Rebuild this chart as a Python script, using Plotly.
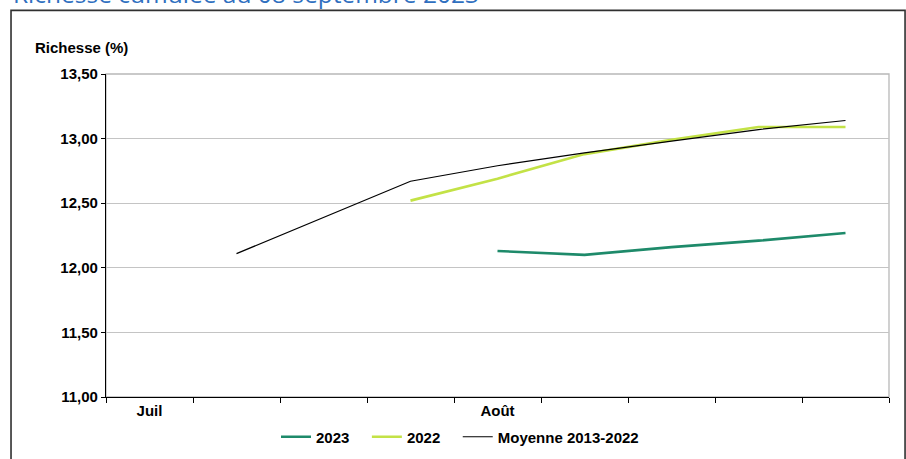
import plotly.graph_objects as go

categories = [0, 1, 2, 3, 4, 5, 6, 7, 8]
tick_positions = [0, 4]
tick_labels = ["Juil", "Août"]

s2023 = [None, None, None, None, 12.13, 12.10, 12.16, 12.21, 12.27]
s2022 = [None, None, None, 12.52, 12.69, 12.88, 12.99, 13.09, 13.09]
moyenne = [None, 12.11, None, 12.67, 12.79, 12.89, 12.98, 13.07, 13.14]

FONT = "Liberation Sans, Arial, sans-serif"
PAD = "\u00a0\u00a0\u00a0"

fig = go.Figure()
fig.add_trace(go.Scatter(x=categories, y=s2023, mode="lines", name="2023" + PAD,
                         line=dict(color="#1e8a6a", width=2.6)))
fig.add_trace(go.Scatter(x=categories, y=s2022, mode="lines", name="2022" + PAD,
                         line=dict(color="#c3e246", width=2.6)))
fig.add_trace(go.Scatter(x=categories, y=moyenne, mode="lines", name="Moyenne 2013-2022",
                         connectgaps=True, line=dict(color="#000000", width=1.2)))

fig.update_layout(
    width=906, height=459,
    margin=dict(l=106, r=17, t=74, b=62),
    paper_bgcolor="white", plot_bgcolor="white",
    font=dict(family=FONT, size=15, color="black"),
    separators=",.",
    showlegend=True,
    legend=dict(orientation="h", x=(276 - 106) / 783, xanchor="left",
                yref="container", y=1 - 437 / 459, yanchor="middle",
                font=dict(family=FONT, size=15, color="black", weight="bold"),
                tracegroupgap=0, bgcolor="rgba(0,0,0,0)"),
    xaxis=dict(range=[-0.5, 8.5], tickmode="array", tickvals=tick_positions,
               ticktext=["<b>%s</b>" % t for t in tick_labels],
               ticks="", showgrid=False, zeroline=False, automargin=False,
               showline=True, linecolor="black", linewidth=1.3,
               tickfont=dict(family=FONT, size=15, color="black"),
               minor=dict(ticks="outside", tick0=-0.5, dtick=1, ticklen=5,
                          tickcolor="black", tickwidth=1, showgrid=False)),
    yaxis=dict(range=[11.0, 13.5], dtick=0.5, tick0=11, tickformat=".2f",
               ticks="outside", ticklen=4, tickcolor="black", automargin=False,
               showgrid=True, gridcolor="#c4c4c4", gridwidth=1.3, zeroline=False,
               showline=True, linecolor="black", linewidth=1.3,
               tickfont=dict(family=FONT, size=15, color="black", weight="bold")),
    shapes=[
        dict(type="rect", xref="paper", yref="paper", x0=0, x1=1, y0=0, y1=1,
             line=dict(color="#b8b8b8", width=1.3), layer="below"),
        dict(type="rect", xref="paper", yref="paper", x0=-0.1213, x1=1.0205,
             y0=-0.3, y1=1.197, line=dict(color="#303030", width=1.6)),
    ],
    annotations=[
        dict(text="<b>Richesse (%)</b>", xref="paper", yref="paper",
             x=(33 - 106) / 783, y=(397 - 48) / 323, xanchor="left", yanchor="middle",
             showarrow=False, font=dict(family=FONT, size=15, color="black")),
        dict(text="Richesse cumulée au 08 septembre 2023", xref="paper", yref="paper",
             x=(11 - 106) / 783, y=(397 - 12) / 323, xanchor="left", yanchor="bottom",
             showarrow=False, font=dict(family="Open Sans, sans-serif", size=24.5, color="#2f6fbf")),
    ],
)

fig.write_html("out.html")
